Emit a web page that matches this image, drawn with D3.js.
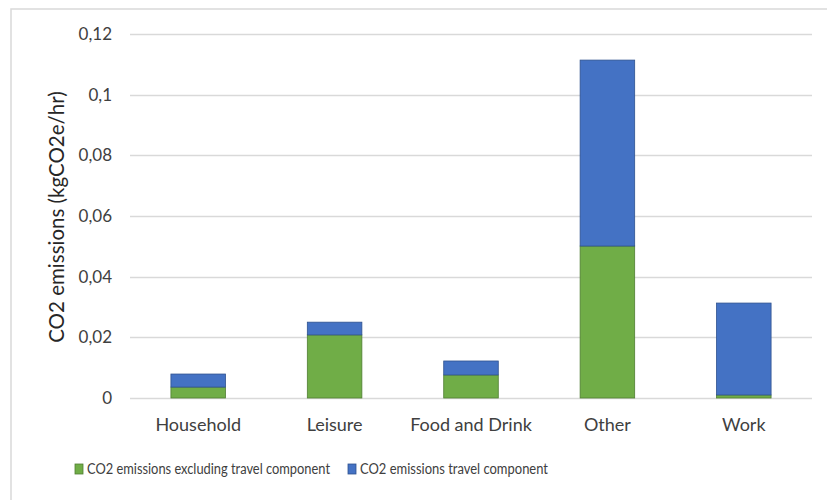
<!DOCTYPE html>
<html>
<head>
<meta charset="utf-8">
<script src="https://cdn.jsdelivr.net/npm/d3@7"></script>
<style>
  body { margin: 0; background: #fff; }
  text { font-family: Lato, "Open Sans", sans-serif; fill: #404040; }
</style>
</head>
<body>
<svg id="chart" width="827" height="500"></svg>
<script>
var categories = ["Household", "Leisure", "Food and Drink", "Other", "Work"];
var excludingTravel = [0.0036, 0.0208, 0.0076, 0.0501, 0.0010];
var travelOnly = [0.0043, 0.0042, 0.0046, 0.0613, 0.0303];
var seriesNames = ["CO2 emissions excluding travel component", "CO2 emissions travel component"];
var yTicks = [0, 0.02, 0.04, 0.06, 0.08, 0.1, 0.12];

var colors = ["#70ad47", "#4472c4"];
var strokes = ["#507e32", "#2f528f"];

var svg = d3.select("#chart");

// outer frame (only top/left visible in the picture)
svg.append("rect")
  .attr("x", 11).attr("y", 9)
  .attr("width", 830).attr("height", 500)
  .attr("fill", "none").attr("stroke", "#d9d9d9").attr("stroke-width", 1.5);

var plotL = 130, plotR = 812, plotT = 34, plotB = 398;

var x = d3.scaleBand().domain(categories).range([plotL, plotR])
  .paddingInner(0.6).paddingOuter(0.3);
var y = d3.scaleLinear().domain([0, 0.12]).range([plotB, plotT]);

var fmt = d => d === 0 ? "0" : String(d).replace(".", ",");

// gridlines
svg.append("g").selectAll("line").data(yTicks).enter().append("line")
  .attr("x1", plotL).attr("x2", plotR)
  .attr("y1", d => Math.round(y(d)) + 0.5).attr("y2", d => Math.round(y(d)) + 0.5)
  .attr("stroke", "#d9d9d9").attr("stroke-width", 1.4);

// y tick labels
svg.append("g").selectAll("text").data(yTicks).enter().append("text")
  .attr("x", 112).attr("y", d => y(d))
  .attr("dy", "0.35em")
  .attr("text-anchor", "end")
  .style("font-size", "17px")
  .text(fmt);

// stacked bars
var rows = categories.map((c, i) => ({cat: c, ex: excludingTravel[i], tr: travelOnly[i]}));
var stack = d3.stack().keys(["ex", "tr"])(rows);

svg.append("g").selectAll("g").data(stack).enter().append("g")
  .attr("fill", (d, i) => colors[i])
  .attr("stroke", (d, i) => strokes[i])
  .selectAll("rect").data(d => d).enter().append("rect")
  .attr("x", d => x(d.data.cat))
  .attr("y", d => y(d[1]))
  .attr("width", x.bandwidth())
  .attr("height", d => y(d[0]) - y(d[1]))
  .attr("stroke-width", 0.8);

// x labels
svg.append("g").selectAll("text").data(categories).enter().append("text")
  .attr("x", d => x(d) + x.bandwidth() / 2)
  .attr("y", 425)
  .attr("dy", "0.35em")
  .attr("text-anchor", "middle")
  .style("font-size", "18px")
  .text(d => d);

// y axis title
svg.append("text")
  .attr("transform", "translate(57," + ((plotT + plotB) / 2 + 1) + ") rotate(-90)")
  .attr("dy", "0.35em")
  .attr("text-anchor", "middle")
  .style("font-size", "20.5px")
  .style("fill", "#262626")
  .text("CO2 emissions (kgCO2e/hr)");

// legend (original uses a narrow font, so squeeze the text to its width)
var legendX = [75, 348];
var legendW = [243, 188];
var items = svg.append("g").attr("transform", "translate(0,469)")
  .selectAll("g").data(seriesNames).enter().append("g")
  .attr("transform", (d, i) => "translate(" + legendX[i] + ",0)");
items.append("rect")
  .attr("y", -5).attr("width", 8).attr("height", 10)
  .attr("fill", (d, i) => colors[i]).attr("stroke", (d, i) => strokes[i]).attr("stroke-width", 0.8);
items.append("text")
  .attr("x", 12).attr("dy", "0.35em")
  .attr("textLength", (d, i) => legendW[i])
  .attr("lengthAdjust", "spacingAndGlyphs")
  .style("font-size", "15.5px")
  .text(d => d);
</script>
</body>
</html>
